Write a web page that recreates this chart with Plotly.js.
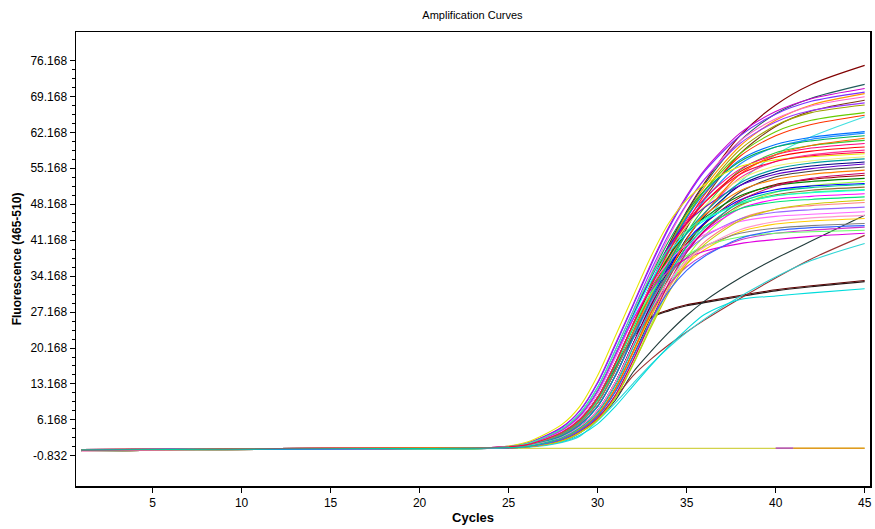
<!DOCTYPE html>
<html>
<head>
<meta charset="utf-8">
<script src="https://cdn.plot.ly/plotly-3.0.1.min.js"></script>
<style>html,body{margin:0;padding:0;background:#fff;}#chart{width:875px;height:529px;}</style>
</head>
<body>
<div id="chart"></div>
<script>
const CYCLES = [1, 6, 12, 18, 24, 26, 28, 29, 30, 31, 32, 33, 34, 35, 36, 38, 40, 42, 45];

// Sample curves (fluorescence 465-510)
const s01 = [0.30,0.40,0.50,0.60,0.70, 1.3,3.7,6.2,10.5,17.2,24.9,32.7,40.3,46.8,52.3,61.5,67.5,71.5,75.2];
const s02 = [0.35,0.45,0.45,0.65,0.75, 1.3,3.7,6.2,10.5,17.2,24.8,32.5,40.0,46.5,52.0,60.5,65.8,68.8,71.5];
const s03 = [0.20,0.35,0.55,0.55,0.65, 1.6,4.8,8.0,13.5,21.0,28.7,36.6,43.8,49.8,54.8,62.0,66.2,68.7,70.7];
const s04 = [0.40,0.50,0.60,0.70,0.80, 1.6,4.7,7.9,13.3,20.7,28.5,36.3,43.5,49.5,54.5,61.5,65.7,68.2,70.0];
const s05 = [0.05,0.30,0.45,0.60,0.65, 1.3,3.7,6.2,10.5,17.2,24.8,32.5,39.8,46.2,51.5,59.5,64.5,67.5,69.7];
const s06 = [0.30,0.50,0.40,0.55,0.70, 1.4,4.2,7.0,11.8,18.9,26.7,34.6,41.8,48.0,53.0,60.5,64.8,67.3,69.1];
const s07 = [0.25,0.35,0.60,0.65,0.75, 1.05,2.8,4.8,8.0,13.5,21.0,28.7,36.5,43.5,49.2,58.0,63.3,66.3,68.4];
const s08 = [0.30,0.40,0.50,0.60,0.70, 1.5,4.4,7.4,12.5,19.8,27.5,35.3,42.3,48.2,53.0,60.0,64.2,66.4,67.9];
const s09 = [0.35,0.45,0.45,0.65,0.75, 1.2,3.3,5.6,9.5,15.8,23.3,31.0,38.8,45.5,50.8,58.8,63.5,66.0,67.5];
const s10 = [0.20,0.35,0.55,0.55,0.65, 1.3,3.7,6.2,10.5,17.2,24.8,32.5,39.8,45.8,50.8,58.0,62.3,64.5,66.0];
const s11 = [0.40,0.50,0.60,0.70,0.80, 0.9,2.1,3.7,6.2,10.5,17.0,24.5,32.0,38.8,44.5,52.5,57.8,61.3,65.2];
const s12 = [0.05,0.30,0.45,0.60,0.65, 1.1,3.1,5.2,8.8,14.8,22.3,30.0,37.8,44.5,50.0,57.5,61.5,63.7,65.5];
const s13 = [0.30,0.50,0.40,0.55,0.70, 1.3,3.7,6.2,10.5,17.2,24.8,32.3,39.5,45.5,50.3,56.8,59.8,61.2,62.3];
const s14 = [0.25,0.35,0.60,0.65,0.75, 1.1,3.1,5.2,8.8,14.8,22.3,30.0,37.5,44.0,49.0,56.0,59.3,60.8,62.0];
const s15 = [0.30,0.40,0.50,0.60,0.70, 1.4,4.2,7.0,11.8,18.9,26.6,34.2,41.0,46.5,50.8,56.5,59.3,60.5,61.5];
const s16 = [0.35,0.45,0.45,0.65,0.75, 1.05,2.8,4.8,8.0,13.5,21.0,28.6,36.0,42.5,47.5,54.8,58.2,59.6,60.6];
const s17 = [0.20,0.35,0.55,0.55,0.65, 1.3,3.7,6.2,10.5,17.2,24.8,32.2,39.2,45.0,49.3,55.0,57.8,59.1,60.0];
const s18 = [0.40,0.50,0.60,0.70,0.80, 1.2,3.3,5.6,9.5,15.8,23.3,30.8,38.0,44.0,48.5,54.5,57.3,58.5,59.3];
const s19 = [0.05,0.30,0.45,0.60,0.65, 1.0,2.5,4.3,7.2,12.3,19.5,27.3,35.0,41.5,46.3,53.3,56.5,57.8,58.7];
const s20 = [0.30,0.50,0.40,0.55,0.70, 1.8,5.3,8.8,14.8,22.5,30.3,38.0,44.5,49.0,52.0,55.5,56.8,57.4,58.0];
const s21 = [0.25,0.35,0.60,0.65,0.75, 1.3,3.7,6.2,10.5,17.2,24.8,32.0,38.8,44.0,47.8,53.0,55.6,56.6,57.4];
const s22 = [0.30,0.40,0.50,0.60,0.70, 1.05,2.8,4.8,8.0,13.5,21.0,28.5,35.5,41.5,45.8,51.8,54.5,55.6,56.4];
const s23 = [0.35,0.45,0.45,0.65,0.75, 1.4,4.2,7.0,11.8,18.9,26.5,33.8,40.0,44.5,47.5,51.8,54.0,55.1,56.0];
const s24 = [0.20,0.35,0.55,0.55,0.65, 0.95,2.4,4.1,6.9,11.7,18.6,26.3,33.8,40.0,44.5,50.5,53.5,54.6,55.4];
const s25 = [0.40,0.50,0.60,0.70,0.80, 1.2,3.3,5.6,9.5,15.8,23.2,30.5,37.3,42.5,46.0,50.8,53.0,54.0,54.8];
const s26 = [0.05,0.30,0.45,0.60,0.65, 1.05,2.8,4.8,8.0,13.5,21.0,28.3,35.0,40.5,44.3,49.5,52.0,53.0,53.8];
const s27 = [0.30,0.50,0.40,0.55,0.70, 1.3,3.7,6.2,10.5,17.2,24.7,31.8,38.0,42.5,45.5,49.8,51.8,52.6,53.2];
const s28 = [0.25,0.35,0.60,0.65,0.75, 0.9,2.1,3.7,6.2,10.5,17.1,24.6,31.8,37.8,42.0,47.8,50.5,51.8,52.6];
const s29 = [0.30,0.40,0.50,0.60,0.70, 1.1,3.1,5.2,8.8,14.8,22.2,29.5,36.0,41.0,44.5,49.0,51.0,51.7,52.2];
const s30 = [0.35,0.45,0.45,0.65,0.75, 1.0,2.5,4.3,7.2,12.3,19.5,27.0,33.8,39.2,43.0,48.0,50.0,50.9,51.5];
const s31 = [0.20,0.35,0.55,0.55,0.65, 1.4,4.2,7.0,11.8,18.9,26.3,33.2,38.8,42.5,45.0,48.3,49.8,50.4,50.9];
const s32 = [0.40,0.50,0.60,0.70,0.80, 1.05,2.8,4.8,8.0,13.5,20.8,28.0,34.3,39.3,42.8,47.3,49.1,49.7,50.2];
const s33 = [0.05,0.30,0.45,0.60,0.65, 1.25,3.5,5.9,10.0,16.5,24.0,31.0,36.8,41.0,43.8,47.3,48.6,49.1,49.6];
const s34 = [0.30,0.50,0.40,0.55,0.70, 0.9,2.2,3.9,6.5,11.0,17.8,25.2,31.8,37.0,40.8,45.3,47.2,47.9,48.5];
const s35 = [0.25,0.35,0.60,0.65,0.75, 1.1,3.1,5.2,8.8,14.8,22.0,29.0,34.8,39.0,41.8,45.3,46.6,47.1,47.6];
const s36 = [0.30,0.40,0.50,0.60,0.70, 1.35,4.0,6.6,11.2,18.2,25.7,32.2,37.0,40.2,42.2,44.8,45.8,46.2,46.7];
const s37 = [0.35,0.45,0.45,0.65,0.75, 1.0,2.5,4.3,7.2,12.3,19.3,26.5,32.3,36.5,39.3,42.8,44.3,44.9,45.4];
const s38 = [0.20,0.35,0.55,0.55,0.65, 1.2,3.3,5.6,9.5,15.8,23.0,29.5,34.5,37.8,40.0,42.5,43.5,44.0,44.4];
const s39 = [0.40,0.50,0.60,0.70,0.80, 1.05,2.8,4.8,8.0,13.5,20.6,27.3,32.5,36.0,38.3,41.2,42.5,43.1,43.7];
const s40 = [0.05,0.30,0.45,0.60,0.65, 1.3,3.7,6.2,10.5,17.2,24.5,30.8,35.3,38.2,40.0,41.8,42.5,42.8,43.1];
const s41 = [0.30,0.50,0.40,0.55,0.70, 1.4,4.2,7.0,11.8,18.8,25.8,31.5,35.3,37.6,39.0,40.5,41.3,41.9,42.5];
const s42 = [0.25,0.35,0.60,0.65,0.75, 1.0,2.5,4.3,7.2,12.3,19.5,27.2,34.8,41.3,46.3,54.0,57.8,59.6,61.0];
const s43 = [0.30,0.40,0.50,0.60,0.70, 1.1,3.1,5.2,8.8,14.8,22.2,29.7,36.8,42.5,46.5,52.3,55.0,56.2,57.0];
const s44 = [0.35,0.45,0.45,0.65,0.75, 0.9,2.2,3.9,6.5,11.0,17.8,25.5,32.8,38.8,43.0,48.8,51.7,53.2,54.2];
const s45 = [0.20,0.35,0.55,0.55,0.65, 1.5,4.4,7.4,12.5,19.8,27.3,34.2,39.5,43.0,45.3,48.3,49.8,50.5,51.0];
const s46 = [0.40,0.50,0.60,0.70,0.80, 0.9,2.1,3.7,6.2,10.5,17.0,24.2,31.0,36.5,40.3,45.0,47.2,48.2,49.0];
const s47 = [0.05,0.30,0.45,0.60,0.65, 1.05,2.8,4.8,8.0,13.5,20.7,27.6,33.3,37.2,39.8,43.2,44.8,45.5,46.0];
const s48 = [0.30,0.50,0.40,0.55,0.70, 0.95,2.4,4.1,6.9,11.7,18.5,25.5,31.3,35.3,38.0,41.5,43.0,43.6,44.0];
const s49 = [0.25,0.35,0.60,0.65,0.75, 1.3,3.7,6.2,10.5,17.2,24.8,32.2,39.0,44.5,48.5,54.0,56.5,57.6,58.3];
const s50 = [0.30,0.40,0.50,0.60,0.70, 1.0,2.7,4.6,7.6,12.9,20.3,27.8,34.5,39.8,43.5,48.5,50.6,51.4,52.0];
const s51 = [0.35,0.45,0.45,0.65,0.75, 0.9,2.1,3.7,6.2,10.0,15.5,19.5,23.2,26.5,29.3,33.8,37.6,41.0,46.0];
const s52 = [0.20,0.35,0.55,0.55,0.65, 0.9,2.0,3.6,6.5,10.5,14.8,18.0,20.8,23.3,25.6,29.8,33.8,37.5,42.1];
const s53 = [0.40,0.50,0.60,0.70,0.80, 0.85,1.8,3.0,6.0,9.5,13.3,17.0,20.3,23.2,25.8,30.2,34.0,37.2,40.5];
const s54 = [0.05,0.30,0.45,0.60,0.65, 0.85,1.9,3.2,5.4,8.8,12.8,16.8,20.5,23.8,26.7,29.6,30.3,30.9,31.7];
const s55 = [0.30,0.50,0.40,0.55,0.70, 1.2,3.5,6.0,10.5,16.5,22.5,26.2,27.6,28.6,29.2,30.4,31.5,32.3,33.3];
const s56 = [0.25,0.35,0.60,0.65,0.75, 1.2,3.4,5.9,10.3,16.2,22.2,26.0,27.4,28.4,29.0,30.2,31.3,32.1,33.1];

// Drawing order: the outlying samples first, so the main bundle lies over them
const SAMPLES = [s55,s56,s51,s52,s53,s54,
  s01,s02,s03,s04,s05,s06,s07,s08,s09,s10,s11,s12,s13,s14,s15,s16,s17,s18,s19,s20,
  s21,s22,s23,s24,s25,s26,s27,s28,s29,s30,s31,s32,s33,s34,s35,s36,s37,s38,s39,s40,
  s41,s42,s43,s44,s45,s46,s47,s48,s49,s50];
const SAMPLE_COLORS = ['#600000','#2a1515','#1f3a3a','#993333','#30d5d5','#00dcdc',
  '#800000','#205c5c','#cc00cc','#7b2cff','#ff9900','#ff66cc','#7a3b10','#9933ff','#a0a000','#66cc00',
  '#40e0e0','#ff3300','#0070ff','#1e90ff','#00b050','#33cc33','#ff0080','#ff0000','#ff3399','#e6e600',
  '#f0f070','#000080','#6600cc','#404040','#ff8000','#990000','#008000','#99ff33','#0000ff','#996633',
  '#00ffff','#ff00ff','#00e676','#ff8080','#9966ff','#ff66ff','#ffcc00','#808080','#cc33cc','#66ff66',
  '#e000e0','#ff6600','#00a0a0','#cc0066','#33ff99','#cccc00','#ff99cc','#3366ff','#ff0040','#00cc99'];

// Negative controls (flat)
const NEG_CYCLES = [1, 5, 10, 20, 30, 40, 41, 45];
const negYellow = [0.10, 0.30, 0.50, 0.60, 0.63, 0.65, 0.65, 0.65];
const negPurple = [null, null, null, null, null, 0.68, 0.68, null];
const negOrange = [null, null, null, null, null, null, 0.66, 0.66];

// Axis ticks
const Y_TICKS = [-0.832, 6.168, 13.168, 20.168, 27.168, 34.168, 41.168, 48.168, 55.168, 62.168, 69.168, 76.168];
const Y_LABELS = ['-0.832','6.168','13.168','20.168','27.168','34.168','41.168','48.168','55.168','62.168','69.168','76.168'];
const X_TICKS = [5, 10, 15, 20, 25, 30, 35, 40, 45];

const minorY = [];
for (let i = 0; i < Y_TICKS.length - 1; i++) {
  const step = (Y_TICKS[i+1] - Y_TICKS[i]) / 4;
  for (let k = 1; k < 4; k++) minorY.push(Y_TICKS[i] + k * step);
}

const traces = [];
traces.push({x: NEG_CYCLES, y: negYellow, mode: 'lines', line: {color: '#d2d24a', width: 1.2}, hoverinfo: 'skip'});
traces.push({x: NEG_CYCLES, y: negPurple, mode: 'lines', line: {color: '#b040c0', width: 1.4}, hoverinfo: 'skip'});
traces.push({x: NEG_CYCLES, y: negOrange, mode: 'lines', line: {color: '#e09a20', width: 1.4}, hoverinfo: 'skip'});
SAMPLES.forEach((vals, i) => {
  traces.push({x: CYCLES, y: vals, mode: 'lines',
    line: {color: SAMPLE_COLORS[i], width: 1.1, shape: 'spline', smoothing: 0.8}, hoverinfo: 'skip'});
});

const FONT = 'Liberation Sans, Arial, sans-serif';
const layout = {
  width: 875, height: 529,
  margin: {l: 76, r: 5, t: 32, b: 43},
  paper_bgcolor: '#ffffff', plot_bgcolor: '#ffffff',
  showlegend: false, hovermode: false,
  font: {family: FONT, color: '#000'},
  title: {text: 'Amplification Curves', font: {family: FONT, size: 11, color: '#000'},
    x: 0.54, xanchor: 'center', y: 0.972, yanchor: 'middle'},
  xaxis: {range: [0.7, 45.3], tickmode: 'array', tickvals: X_TICKS, ticktext: X_TICKS.map(String),
    ticks: 'outside', ticklen: 5, tickcolor: '#000', tickwidth: 1,
    showgrid: false, zeroline: false, showline: true, linecolor: '#000', linewidth: 1.5, mirror: true,
    tickfont: {family: FONT, size: 12, color: '#000'},
    title: {text: '<b>Cycles</b>', font: {family: FONT, size: 13, color: '#000'}, standoff: 4}},
  yaxis: {range: [-6.7, 81.7], tickmode: 'array', tickvals: Y_TICKS, ticktext: Y_LABELS,
    ticks: 'outside', ticklen: 5, tickcolor: '#000', tickwidth: 1,
    minor: {tickmode: 'array', tickvals: minorY, ticks: 'outside', ticklen: 3, tickcolor: '#000', showgrid: false},
    showgrid: false, zeroline: false, showline: true, linecolor: '#000', linewidth: 1.5, mirror: true,
    tickfont: {family: FONT, size: 12, color: '#000'},
    title: {text: '<b>Fluorescence (465-510)</b>', font: {family: FONT, size: 12, color: '#000'}, standoff: 6}}
};

Plotly.newPlot('chart', traces, layout, {staticPlot: true, displayModeBar: false});
</script>
</body>
</html>
